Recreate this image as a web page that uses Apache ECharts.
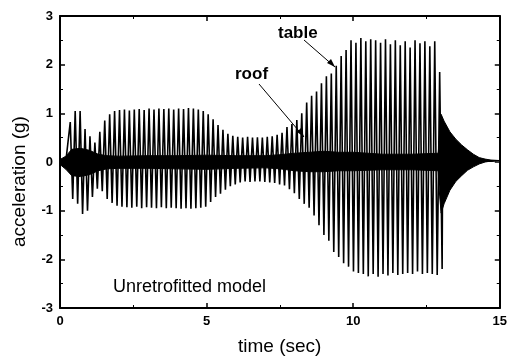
<!DOCTYPE html>
<html><head><meta charset="utf-8">
<script src="https://cdn.jsdelivr.net/npm/echarts@6/dist/echarts.min.js"></script>
<style>html,body{margin:0;padding:0;background:#fff}#c{width:510px;height:362px}</style>
</head><body><div id="c"></div>
<script>
// Table acceleration: one spike per cycle (peak then trough)
const tableStart = 0.35;   // sec, first spike
const tableStep = 0.168;   // sec, spike spacing
const tableUpper = [0.82,1.05,1.05,0.68,0.53,0.40,0.62,0.85,0.98,1.05,
  1.07,1.08,1.06,1.08,1.09,1.07,1.10,1.08,1.10,1.09,
  1.10,1.08,1.10,1.09,1.11,1.10,1.08,1.05,0.98,0.88,
  0.76,0.66,0.58,0.54,0.52,0.50,0.52,0.50,0.51,0.50,
  0.52,0.53,0.56,0.60,0.72,0.78,0.86,1.00,1.22,1.36,
  1.45,1.62,1.76,1.82,1.98,2.18,2.30,2.50,2.45,2.55,
  2.48,2.52,2.50,2.45,2.52,2.42,2.50,2.40,2.48,2.35,
  2.50,2.44,2.48,2.38,2.48,1.85];
const tableLower = [-0.76,-0.86,-1.07,-1.00,-0.72,-0.55,-0.60,-0.76,-0.84,-0.90,
  -0.92,-0.93,-0.94,-0.92,-0.95,-0.93,-0.94,-0.95,-0.93,-0.95,
  -0.94,-0.95,-0.96,-0.95,-0.96,-0.95,-0.94,-0.92,-0.82,-0.72,
  -0.65,-0.57,-0.50,-0.46,-0.42,-0.40,-0.41,-0.40,-0.40,-0.41,
  -0.42,-0.43,-0.46,-0.48,-0.56,-0.64,-0.76,-0.86,-0.94,-1.10,
  -1.30,-1.50,-1.62,-1.85,-1.95,-2.08,-2.15,-2.25,-2.28,-2.30,
  -2.35,-2.30,-2.36,-2.30,-2.33,-2.28,-2.32,-2.30,-2.28,-2.30,
  -2.25,-2.30,-2.28,-2.30,-2.32,-2.20];

// Roof acceleration: dense oscillation, drawn as its envelope band
const roofTime  = [0,0.2,0.4,0.7,1.0,1.3,1.6,2,3,4,5,6,7,7.5,8,8.5,9,9.5,10,11,12,12.9,12.95,13.0,13.1,13.3,13.5,13.7,13.9,14.1,14.3,14.5,14.7,15];
const roofUpper = [0.05,0.12,0.26,0.28,0.24,0.16,0.13,0.12,0.13,0.13,0.14,0.13,0.13,0.15,0.18,0.20,0.22,0.20,0.20,0.16,0.16,0.18,0.60,0.98,0.84,0.62,0.47,0.35,0.25,0.16,0.09,0.06,0.04,0.03];
const roofLower = [-0.05,-0.15,-0.28,-0.30,-0.26,-0.18,-0.14,-0.13,-0.13,-0.14,-0.15,-0.13,-0.12,-0.14,-0.18,-0.20,-0.20,-0.18,-0.18,-0.16,-0.16,-0.18,-0.70,-1.05,-0.86,-0.58,-0.40,-0.28,-0.17,-0.10,-0.04,0.00,0.02,0.03];

const xTicks = [0,5,10,15];
const yTicks = [-3,-2,-1,0,1,2,3];

const tableData = [[0,0],[0.2,0.02]];
for (let i = 0; i < tableUpper.length; i++) {
  const t = tableStart + i * tableStep;
  tableData.push([t, tableUpper[i]]);
  tableData.push([t + tableStep / 2, tableLower[i]]);
}
tableData.push([13.05, 0]);
const roofUp = roofTime.map((t, i) => [t, roofUpper[i]]);
const roofLo = roofTime.map((t, i) => [t, roofLower[i]]);

const chart = echarts.init(document.getElementById('c'));
const F = 'Liberation Sans, Arial, sans-serif';
const axCommon = (show) => ({
  axisLine: {show: true, onZero: false, lineStyle: {color: '#000', width: 2}},
  axisTick: {show: true, inside: true, length: 5, lineStyle: {color: '#000', width: 1.5}},
  minorTick: {show: true, splitNumber: 2, length: 3, lineStyle: {color: '#000', width: 1}},
  splitLine: {show: false},
  axisLabel: {show: show, color: '#000', fontFamily: F, fontWeight: 'bold', fontSize: 13, margin: 7}
});
chart.setOption({
  animation: false,
  grid: {left: 60, right: 5, top: 16, bottom: 54, containLabel: false},
  xAxis: [
    Object.assign({type: 'value', min: xTicks[0], max: xTicks[xTicks.length-1], interval: 5, position: 'bottom'}, axCommon(true)),
    Object.assign({type: 'value', min: xTicks[0], max: xTicks[xTicks.length-1], interval: 5, position: 'top'}, axCommon(false))
  ],
  yAxis: [
    Object.assign({type: 'value', min: yTicks[0], max: yTicks[yTicks.length-1], interval: 1, position: 'left'}, axCommon(true)),
    Object.assign({type: 'value', min: yTicks[0], max: yTicks[yTicks.length-1], interval: 1, position: 'right'}, axCommon(false))
  ],
  series: [
    {name: 'roof', type: 'line', data: roofUp, showSymbol: false, smooth: false,
     lineStyle: {color: '#000', width: 1}, areaStyle: {color: '#000', opacity: 1}},
    {name: 'roof', type: 'line', data: roofLo, showSymbol: false, smooth: false,
     lineStyle: {color: '#000', width: 1}, areaStyle: {color: '#000', opacity: 1}},
    {name: 'table', type: 'line', data: tableData, showSymbol: false, smooth: false,
     lineStyle: {color: '#000', width: 1.6}}
  ],
  graphic: [
    {type: 'text', left: 278, top: 25, style: {text: 'table', font: 'bold 17px ' + F, fill: '#000'}},
    {type: 'text', left: 235, top: 66, style: {text: 'roof', font: 'bold 17px ' + F, fill: '#000'}},
    {type: 'line', shape: {x1: 304, y1: 40, x2: 335, y2: 67}, style: {stroke: '#000', lineWidth: 1}},
    {type: 'polygon', shape: {points: [[335,67],[327,63],[331,59]]}, style: {fill: '#000'}},
    {type: 'line', shape: {x1: 259, y1: 84, x2: 304, y2: 137}, style: {stroke: '#000', lineWidth: 1}},
    {type: 'polygon', shape: {points: [[304,137],[297,132],[301,128]]}, style: {fill: '#000'}},
    {type: 'text', left: 113, top: 278, style: {text: 'Unretrofitted model', font: '18px ' + F, fill: '#000'}},
    {type: 'text', left: 238, top: 337, style: {text: 'time (sec)', font: '19px ' + F, fill: '#000'}},
    {type: 'text', x: 10, y: 247, rotation: Math.PI / 2, style: {text: 'acceleration (g)', font: '19px ' + F, fill: '#000'}}
  ]
});
</script></body></html>
